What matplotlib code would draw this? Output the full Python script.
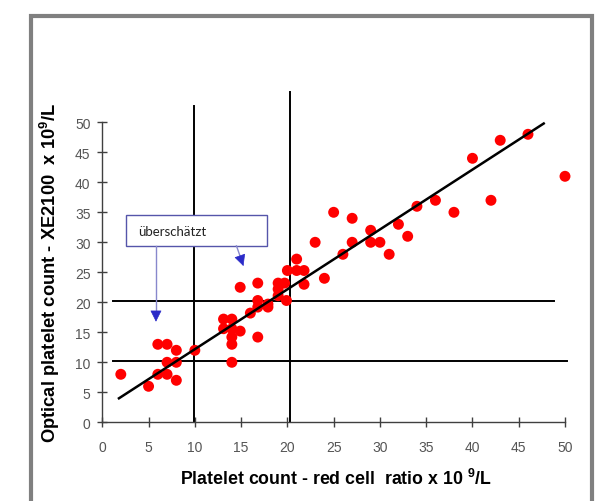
import matplotlib
matplotlib.use("Agg")
import matplotlib.pyplot as plt
from matplotlib.patches import Rectangle, FancyArrowPatch

plt.rcParams['mathtext.fontset'] = 'custom'
plt.rcParams['mathtext.bf'] = 'Liberation Sans:bold'
plt.rcParams['mathtext.rm'] = 'Liberation Sans'

# ---- data ----
x_vals = [2, 5, 6, 7, 8, 7, 8, 6, 7, 8, 10,
          13.1, 14, 13.1, 14, 14, 14, 14, 14.9, 16.8,
          14.9, 16.8, 19, 19, 19.7, 19, 19.9,
          16.8, 16.8, 17.9, 16, 17.9,
          21, 20, 21, 21.8, 21.8, 24,
          25, 27, 23, 27, 29, 29, 30, 31, 32, 26, 33,
          34, 36, 38, 40, 42, 43, 46, 50]
y_vals = [8, 6, 13, 13, 12, 10, 10, 8, 8, 7, 12,
          17.2, 17.2, 15.6, 15.6, 14.2, 13, 10, 15.2, 14.2,
          22.5, 23.2, 23.2, 22.2, 23.2, 21.1, 20.3,
          20.3, 19.2, 19.7, 18.2, 19.2,
          27.2, 25.3, 25.3, 25.3, 23, 24,
          35, 34, 30, 30, 32, 30, 30, 28, 33, 28, 31,
          36, 37, 35, 44, 37, 47, 48, 41]
fit_x = [1.8, 47.7]
fit_y = [4.0, 49.8]
vline_x = [9.9, 20.3]
vline_top = [52.8, 55.0]
hline_y = [10.3, 20.3]
hline_x0 = [1.2, 1.2]
hline_x1 = [50.2, 48.8]
x_ticks = list(range(0, 51, 5))
y_ticks = list(range(0, 51, 5))
note_text = "überschätzt"

fig = plt.figure(figsize=(6.04, 5.02), dpi=100)
W, H = 604, 502
ax = fig.add_axes([102.3 / W, 1 - 423.3 / H, (565 - 102.3) / W, (423.3 - 123.3) / H])

# outer gray frame
fig.patches.append(Rectangle((31 / W, -0.1), (591.5 - 31) / W, 1 - 16.5 / H + 0.1,
                             transform=fig.transFigure, fill=False,
                             edgecolor='#808080', linewidth=3.0))

ax.set_xlim(0, 50)
ax.set_ylim(0, 50)
for s in ['top', 'right']:
    ax.spines[s].set_visible(False)
for s in ['left', 'bottom']:
    ax.spines[s].set_color('#404040')
    ax.spines[s].set_linewidth(1.0)

ax.set_xticks(x_ticks)
ax.set_yticks(y_ticks)
ax.tick_params(direction='inout', length=7, width=1, color='#404040',
               labelcolor='#555555', labelsize=10)
for lab in ax.get_xticklabels() + ax.get_yticklabels():
    lab.set_family(['Liberation Sans', 'DejaVu Sans'])
ax.tick_params(axis='x', pad=9)
ax.tick_params(axis='y', pad=5)

# reference lines
for xv, top in zip(vline_x, vline_top):
    ax.plot([xv, xv], [0, top], color='black', lw=1.4, clip_on=False, zorder=2)
for yv, a, b in zip(hline_y, hline_x0, hline_x1):
    ax.plot([a, b], [yv, yv], color='black', lw=1.4, clip_on=False, zorder=2)

# points
ax.scatter(x_vals, y_vals, s=62, color='#ff0000', edgecolors='none', zorder=3, clip_on=False)

# regression line
ax.plot(fit_x, fit_y, color='black', lw=1.8, zorder=4, clip_on=False)

# annotation box
ax.add_patch(Rectangle((2.56, 29.4), 17.8 - 2.56, 34.55 - 29.4, fill=True,
                       facecolor='white', edgecolor='#5555aa', lw=1.0, zorder=5))
ax.text(3.85, 31.85, note_text, fontsize=9.5, color='#222222', va='center', ha='left',
        family=['Lato', 'DejaVu Sans'], zorder=6)

# arrows
ax.plot([5.8, 5.8], [29.4, 18.0], color='#8888cc', lw=1.0, zorder=5)
ax.add_patch(FancyArrowPatch((5.8, 18.6), (5.8, 16.3), arrowstyle='-|>',
                             mutation_scale=18, color='#2b2bc8', lw=0.5, zorder=6))
ax.plot([14.5, 15.0], [29.4, 27.2], color='#8888cc', lw=1.0, zorder=5)
ax.add_patch(FancyArrowPatch((14.9, 27.6), (15.35, 25.6), arrowstyle='-|>',
                             mutation_scale=18, color='#2b2bc8', lw=0.5, zorder=6))

lab_font = ['Liberation Sans', 'DejaVu Sans']
fig.text(336 / W, 1 - 479 / H, r"Platelet count - red cell  ratio x 10 $^\mathbf{9}$/L",
         ha='center', va='center', fontsize=12.8, fontweight='bold', family=lab_font)
fig.text(50 / W, 1 - 273 / H, r"Optical platelet count - XE2100  x 10$^\mathbf{9}$/L",
         ha='center', va='center', rotation=90, fontsize=13.2, fontweight='bold',
         family=lab_font)

fig.savefig("out.png", dpi=100)
